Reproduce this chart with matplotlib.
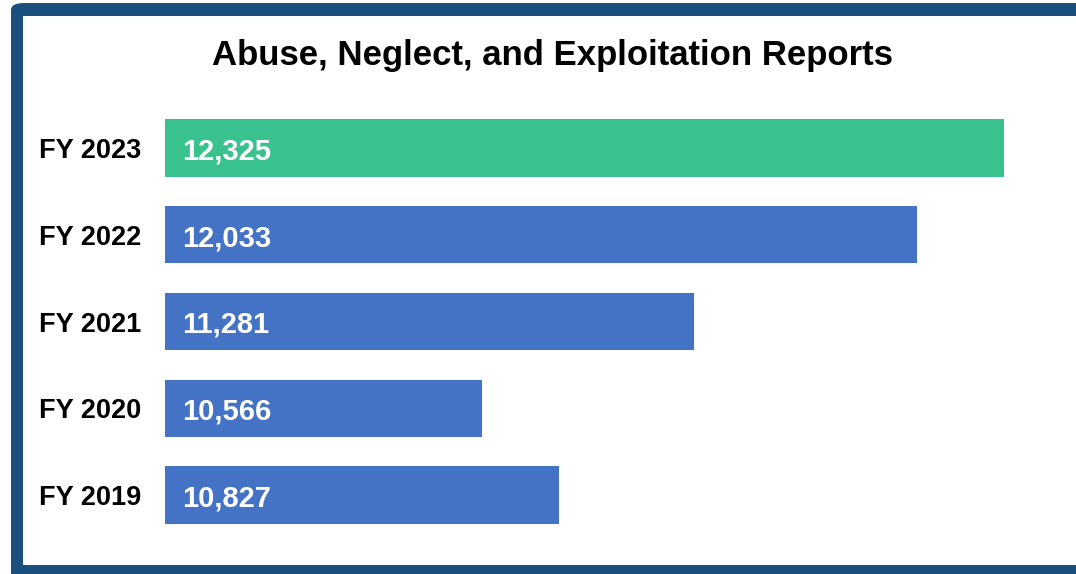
import matplotlib.pyplot as plt
from matplotlib.patches import FancyBboxPatch, Rectangle

# Data
years = ["FY 2019", "FY 2020", "FY 2021", "FY 2022", "FY 2023"]
reports = [10827, 10566, 11281, 12033, 12325]
colors = ["#4472C4", "#4472C4", "#4472C4", "#4472C4", "#3AC28E"]

plt.rcParams["font.family"] = ["Liberation Sans", "DejaVu Sans"]

W, H = 1076, 574
fig = plt.figure(figsize=(W / 100, H / 100), dpi=100)

# Frame (dark blue border, open to the right)
frame = FancyBboxPatch((11 / W, -0.05), 1.1, (H - 3) / H + 0.05,
                       boxstyle="round,pad=0,rounding_size=0.012",
                       transform=fig.transFigure, facecolor="#1B4F7E",
                       edgecolor="none", zorder=0)
fig.patches.append(frame)
inner = Rectangle((23 / W, (H - 565) / H), 1.1, (565 - 16) / H,
                  transform=fig.transFigure, facecolor="white",
                  edgecolor="none", zorder=1)
fig.patches.append(inner)

ax = fig.add_axes([165 / W, 1 - 538.4 / H, 891 / W, 433.75 / H])
ax.set_zorder(2)
ax.patch.set_alpha(0)

pos = range(len(years))
ax.barh(pos, reports, height=0.66, color=colors, left=0)
ax.set_xlim(9500, 12500)
ax.set_ylim(-0.5, 4.5)

for y, v in zip(pos, reports):
    ax.annotate(f"{v:,}", xy=(9500, y), xytext=(12, -2.5),
                textcoords="offset points", ha="left", va="center",
                color="white", fontsize=21, fontweight="bold")

ax.set_yticks(list(pos))
ax.set_yticklabels(years, fontsize=19.5, fontweight="bold")
ax.tick_params(axis="y", length=0, pad=17)
ax.set_xticks([])
for s in ax.spines.values():
    s.set_visible(False)

fig.text(553 / W, 1 - 55 / H, "Abuse, Neglect, and Exploitation Reports",
         ha="center", va="center", fontsize=25, fontweight="bold", zorder=3)

fig.savefig("out.png", dpi=100)
